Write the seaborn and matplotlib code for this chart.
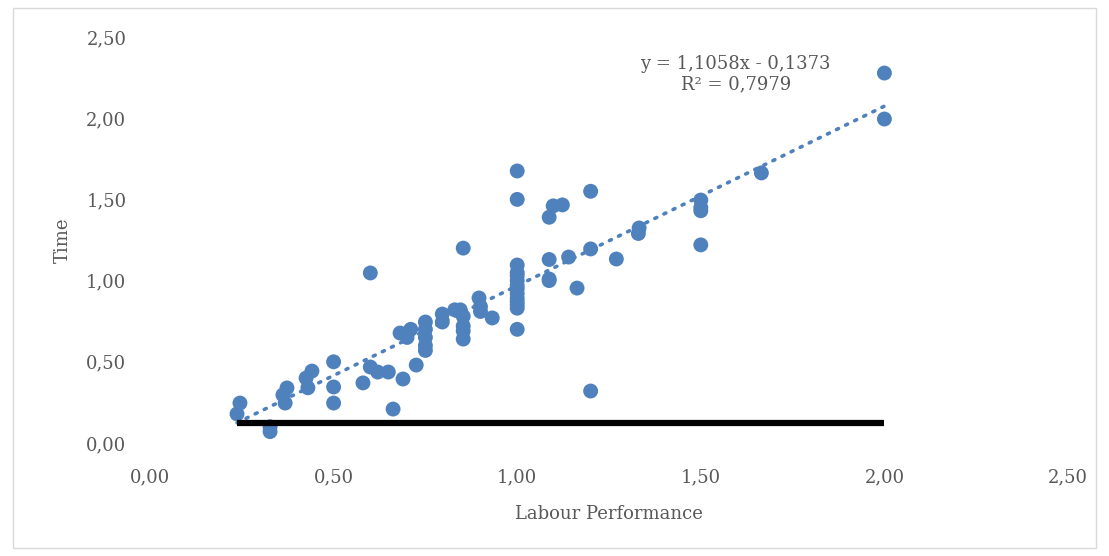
import matplotlib
matplotlib.use("Agg")
import matplotlib.pyplot as plt
import seaborn as sns
import pandas as pd
import numpy as np
from matplotlib.patches import Rectangle

# ---- data ----
labour_performance = [
    0.237, 0.245, 0.327, 0.327, 0.362, 0.368, 0.373, 0.425, 0.43, 0.441,
    0.50, 0.50, 0.50, 0.58, 0.60, 0.60, 0.62, 0.649, 0.662, 0.681,
    0.689, 0.70, 0.71, 0.725, 0.75, 0.75, 0.75, 0.75, 0.75, 0.796,
    0.796, 0.83, 0.845, 0.853, 0.853, 0.853, 0.853, 0.853, 0.896, 0.90,
    0.90, 0.932, 1.0, 1.0, 1.0, 1.0, 1.0, 1.0, 1.0, 1.0,
    1.0, 1.0, 1.0, 1.0, 1.0, 1.0, 1.087, 1.098, 1.123, 1.087,
    1.087, 1.087, 1.14, 1.163, 1.20, 1.20, 1.20, 1.27, 1.332, 1.33,
    1.50, 1.50, 1.50, 1.50, 1.665, 2.0, 2.0,
]
time_values = [
    0.179, 0.246, 0.10, 0.07, 0.296, 0.246, 0.339, 0.40, 0.34, 0.443,
    0.50, 0.345, 0.246, 0.37, 1.047, 0.468, 0.437, 0.437, 0.209, 0.677,
    0.394, 0.65, 0.70, 0.48, 0.745, 0.70, 0.65, 0.60, 0.57, 0.794,
    0.745, 0.82, 0.82, 1.20, 0.78, 0.72, 0.69, 0.64, 0.893, 0.84,
    0.81, 0.77, 1.675, 1.50, 1.096, 1.05, 1.03, 1.0, 0.97, 0.95,
    0.92, 0.89, 0.87, 0.85, 0.83, 0.70, 1.39, 1.46, 1.466, 1.13,
    1.01, 1.0, 1.145, 0.954, 1.55, 1.195, 0.32, 1.133, 1.324, 1.29,
    1.496, 1.45, 1.43, 1.22, 1.663, 2.278, 1.995,
]
trend_slope = 1.1058
trend_intercept = -0.1373
trend_x = [0.237, 2.0]
baseline_x = [0.237, 2.0]
baseline_y = [0.123, 0.123]
tick_values = [0.0, 0.5, 1.0, 1.5, 2.0, 2.5]
tick_labels = ["0,00", "0,50", "1,00", "1,50", "2,00", "2,50"]

# ---- style ----
sns.set_theme(style="white")
plt.rcParams["font.family"] = ["DejaVu Serif"]
text_color = "#595959"
blue = "#4F81BD"

fig = plt.figure(figsize=(11.09, 5.56), dpi=100)
ax = fig.add_axes([150 / 1109, 1 - 443 / 556, (1068 - 150) / 1109, (443 - 37) / 556])

df = pd.DataFrame({"Labour Performance": labour_performance, "Time": time_values})
sns.scatterplot(data=df, x="Labour Performance", y="Time", ax=ax,
                color=blue, s=115, linewidth=0, edgecolor="none", zorder=3)

tx = np.array(trend_x)
ty = trend_slope * tx + trend_intercept
ax.plot(tx, ty, color=blue, linewidth=2.6, linestyle=(0, (0.6, 2.2)),
        dash_capstyle="round", zorder=4)

ax.plot(baseline_x, baseline_y, color="black", linewidth=4.5,
        solid_capstyle="butt", zorder=5)

ax.text(1.595, 2.27, "y = 1,1058x - 0,1373\nR² = 0,7979", ha="center", va="center",
        fontsize=13, color=text_color, linespacing=1.2)

ax.set_xlim(0, 2.5)
ax.set_ylim(0, 2.5)
ax.set_xticks(tick_values)
ax.set_xticklabels(tick_labels)
ax.set_yticks(tick_values)
ax.set_yticklabels(tick_labels)
ax.tick_params(axis="x", length=0, pad=18, labelsize=13, labelcolor=text_color)
ax.tick_params(axis="y", length=0, pad=17, labelsize=13, labelcolor=text_color)
ax.set_xlabel("Labour Performance", fontsize=13, color=text_color, labelpad=14)
ax.set_ylabel("Time", fontsize=13, color=text_color, labelpad=10)
for sp in ax.spines.values():
    sp.set_visible(False)
ax.grid(False)

fig.patches.append(Rectangle((13 / 1109, 1 - 548 / 556), (1096 - 13) / 1109, (548 - 8) / 556,
                             transform=fig.transFigure, fill=False,
                             edgecolor="#D9D9D9", linewidth=1.0))

fig.savefig("out.png", dpi=100)
